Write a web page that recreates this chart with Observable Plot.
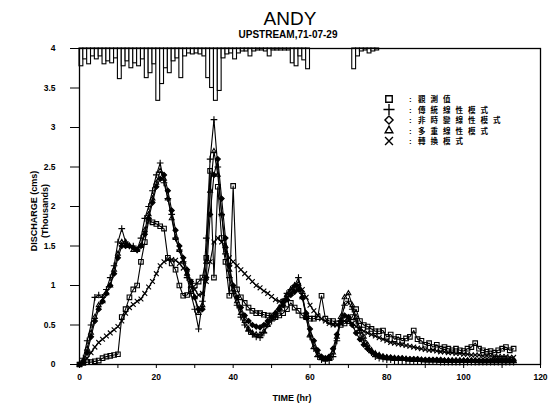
<!DOCTYPE html>
<html>
<head>
<meta charset="utf-8">
<script src="https://cdn.jsdelivr.net/npm/d3@7"></script>
<script src="https://cdn.jsdelivr.net/npm/@observablehq/plot@0.6"></script>
<style>
  html, body { margin: 0; padding: 0; background: #fff; }
  #chart { width: 548px; height: 407px; }
</style>
</head>
<body>
<div id="chart"></div>
<script>
// ---- Hydrograph of the ANDY event, upstream station, 1971-07-29 ----

const TITLE = "ANDY";
const SUBTITLE = "UPSTREAM,71-07-29";
const X_LABEL = "TIME (hr)";
const Y_LABEL_1 = "DISCHARGE (cms)";
const Y_LABEL_2 = "(Thousands)";

const X_TICKS = [0, 10, 20, 30, 40, 50, 60, 70, 80, 90, 100, 110, 120];
const X_TICK_LABELS = ["0", "", "20", "", "40", "", "60", "", "80", "", "100", "", "120"];
const Y_TICKS = [0, 0.5, 1, 1.5, 2, 2.5, 3, 3.5, 4];
const Y_TICK_LABELS = ["0", "0.5", "1", "1.5", "2", "2.5", "3", "3.5", "4"];

// hourly rainfall (mm), hung from the top of the frame
const rainMm = [
  9, 5.5, 8, 4, 5.5, 4, 8, 6.5, 7.5, 5,
  15.5, 9, 6.5, 10, 7.5, 9, 5.5, 15, 12.5, 8,
  26.5, 18, 10, 12.5, 6.5, 5, 15, 4, 2.5, 3,
  2.5, 3, 4, 15, 20, 26.5, 21.5, 5, 3, 2.5,
  5.5, 2.5, 1.5, 1.5, 4, 1.5, 1, 1, 1.5, 4,
  1, 1, 1, 1, 1, 7.5, 9, 4, 6, 10.5,
  0, 0, 0, 0, 0, 0, 0, 0, 0, 0,
  0, 10.5, 4, 1.5, 1, 2.5, 1.5, 1
];
const RAIN_TOP = 4;          // rainfall bars start at the top of the discharge axis
const RAIN_UNIT = 0.025;     // thousand cms of drop per mm of rain

// hourly discharge (thousand cms), hour 0 .. 113
const observed = [
  0, 0.02, 0.03, 0.03, 0.04, 0.05, 0.08, 0.10, 0.11, 0.12,
  0.13, 0.60, 0.70, 0.85, 0.95, 1.00, 1.30, 1.55, 1.82, 1.80,
  1.78, 1.75, 1.72, 1.35, 1.28, 1.20, 1.00, 0.87, 0.88, 0.95,
  1.00, 1.05, 1.10, 1.35, 2.45, 1.10, 2.25, 1.60, 1.30, 0.87,
  2.26, 0.95, 0.85, 0.78, 0.72, 0.68, 0.65, 0.65, 0.63, 0.62,
  0.62, 0.60, 0.62, 0.65, 0.70, 0.78, 0.72, 0.68, 0.62, 0.60,
  0.58, 0.58, 0.60, 0.87, 0.58, 0.55, 0.55, 0.52, 0.50, 0.52,
  0.55, 0.60, 0.70, 0.55, 0.50, 0.48, 0.45, 0.42, 0.42, 0.43,
  0.35, 0.38, 0.32, 0.35, 0.30, 0.33, 0.35, 0.43, 0.32, 0.30,
  0.25, 0.27, 0.22, 0.25, 0.20, 0.22, 0.20, 0.18, 0.20, 0.18,
  0.17, 0.20, 0.22, 0.27, 0.20, 0.18, 0.16, 0.17, 0.15, 0.18,
  0.20, 0.22, 0.18, 0.20
];
const linearModel = [
  0, 0.08, 0.30, 0.50, 0.85, 0.88, 0.85, 0.95, 1.10, 1.25,
  1.55, 1.72, 1.55, 1.50, 1.50, 1.45, 1.60, 1.85, 2.00, 2.20,
  2.40, 2.55, 2.30, 2.10, 1.90, 1.60, 1.45, 1.30, 1.10, 0.90,
  0.70, 0.45, 0.80, 1.60, 2.60, 3.10, 2.50, 1.90, 1.40, 1.10,
  0.90, 0.75, 0.60, 0.50, 0.42, 0.38, 0.35, 0.34, 0.40, 0.50,
  0.55, 0.60, 0.70, 0.80, 0.90, 0.95, 1.00, 1.10, 0.90, 0.60,
  0.35, 0.20, 0.10, 0.06, 0.05, 0.05, 0.10, 0.30, 0.55, 0.75,
  0.80, 0.70, 0.55, 0.40, 0.30, 0.20, 0.15, 0.10, 0.08, 0.07,
  0.06, 0.06, 0.05, 0.05, 0.05, 0.05, 0.05, 0.04, 0.04, 0.04,
  0.04, 0.04, 0.04, 0.04, 0.03, 0.03, 0.03, 0.03, 0.03, 0.03,
  0.03, 0.03, 0.03, 0.03, 0.03, 0.03, 0.03, 0.03, 0.03, 0.03,
  0.03, 0.03, 0.03, 0.03
];
const timeInvariantModel = [
  0, 0.03, 0.15, 0.35, 0.55, 0.70, 0.80, 0.90, 1.00, 1.15,
  1.35, 1.50, 1.50, 1.50, 1.48, 1.45, 1.50, 1.65, 1.85, 2.05,
  2.25, 2.35, 2.40, 2.20, 1.95, 1.70, 1.50, 1.35, 1.20, 1.05,
  0.85, 0.70, 0.70, 1.10, 1.90, 2.40, 2.60, 2.10, 1.60, 1.25,
  1.00, 0.85, 0.72, 0.62, 0.55, 0.50, 0.48, 0.47, 0.50, 0.55,
  0.60, 0.65, 0.70, 0.75, 0.82, 0.88, 0.92, 0.95, 0.85, 0.65,
  0.45, 0.30, 0.18, 0.10, 0.08, 0.10, 0.20, 0.38, 0.55, 0.62,
  0.60, 0.50, 0.40, 0.32, 0.25, 0.20, 0.16, 0.13, 0.11, 0.10,
  0.09, 0.09, 0.08, 0.08, 0.08, 0.07, 0.07, 0.07, 0.07, 0.06,
  0.06, 0.06, 0.06, 0.06, 0.06, 0.05, 0.05, 0.05, 0.05, 0.05,
  0.05, 0.05, 0.05, 0.05, 0.05, 0.05, 0.05, 0.05, 0.05, 0.05,
  0.05, 0.05, 0.05, 0.05
];
const multiLinearModel = [
  0, 0.05, 0.20, 0.40, 0.60, 0.75, 0.80, 0.90, 1.00, 1.20,
  1.40, 1.55, 1.55, 1.50, 1.45, 1.45, 1.50, 1.70, 1.90, 2.10,
  2.30, 2.45, 2.35, 2.10, 1.85, 1.60, 1.45, 1.30, 1.15, 1.00,
  0.85, 0.65, 0.75, 1.30, 2.20, 2.70, 2.40, 1.90, 1.50, 1.20,
  0.95, 0.80, 0.65, 0.55, 0.45, 0.40, 0.38, 0.38, 0.42, 0.50,
  0.58, 0.65, 0.72, 0.80, 0.88, 0.95, 1.00, 1.02, 0.85, 0.60,
  0.38, 0.22, 0.12, 0.08, 0.06, 0.08, 0.15, 0.35, 0.60, 0.85,
  0.90, 0.75, 0.60, 0.45, 0.35, 0.25, 0.18, 0.14, 0.12, 0.10,
  0.09, 0.08, 0.08, 0.07, 0.07, 0.07, 0.06, 0.06, 0.06, 0.06,
  0.05, 0.05, 0.05, 0.05, 0.05, 0.05, 0.05, 0.05, 0.05, 0.05,
  0.05, 0.05, 0.05, 0.05, 0.04, 0.04, 0.04, 0.04, 0.04, 0.04,
  0.04, 0.04, 0.04, 0.04
];
const conversionModel = [
  0, 0.03, 0.08, 0.15, 0.22, 0.28, 0.32, 0.36, 0.40, 0.44,
  0.48, 0.55, 0.65, 0.72, 0.76, 0.80, 0.83, 0.90, 0.98, 1.05,
  1.15, 1.25, 1.30, 1.33, 1.33, 1.32, 1.28, 1.22, 1.15, 1.05,
  0.95, 0.88, 0.90, 1.05, 1.30, 1.55, 1.60, 1.55, 1.45, 1.35,
  1.30, 1.25, 1.20, 1.15, 1.10, 1.05, 1.00, 0.97, 0.93, 0.90,
  0.86, 0.82, 0.80, 0.80, 0.85, 0.90, 0.98, 1.00, 0.95, 0.85,
  0.75, 0.68, 0.62, 0.58, 0.55, 0.52, 0.50, 0.50, 0.52, 0.55,
  0.55, 0.52, 0.48, 0.45, 0.42, 0.40, 0.38, 0.36, 0.34, 0.32,
  0.30, 0.28, 0.27, 0.26, 0.25, 0.24, 0.23, 0.22, 0.21, 0.20,
  0.19, 0.18, 0.18, 0.17, 0.16, 0.16, 0.15, 0.15, 0.14, 0.14,
  0.13, 0.13, 0.12, 0.12, 0.12, 0.11, 0.11, 0.11, 0.10, 0.10,
  0.10, 0.10, 0.09, 0.09
];

// legend entries
const seriesNames = ["觀測值", "傳統線性模式", "非時變線性模式", "多重線性模式", "轉換模式"];
const seriesSymbols = ["square", "plus", "diamond2", "triangle2", "times"];
const seriesFill = ["none", "none", "black", "none", "none"];
const seriesValues = [observed, linearModel, timeInvariantModel, multiLinearModel, conversionModel];

const rainRows = rainMm.map((mm, h) => ({t0: h, t1: h + 1, mm}));
const seriesRows = seriesValues.map((vals, i) =>
  vals.map((q, h) => ({t: h, q, name: seriesNames[i]}))
);

const FONT = "'Liberation Sans', Arial, Helvetica, sans-serif";

// models first, observations on top
const drawOrder = [4, 3, 2, 1, 0];
const seriesMarks = drawOrder.flatMap(i => [
  Plot.line(seriesRows[i], {x: "t", y: "q", stroke: "black", strokeWidth: 1.1}),
  Plot.dot(seriesRows[i], {
    x: "t", y: "q", symbol: () => seriesSymbols[i],
    r: i === 0 ? 2.6 : 2.3, stroke: "black", strokeWidth: 1.1, fill: seriesFill[i]
  })
]);

const plot = Plot.plot({
  width: 548,
  height: 407,
  marginTop: 48,
  marginBottom: 43,
  marginLeft: 79,
  marginRight: 8,
  x: {domain: [0, 120]},
  y: {domain: [0, 4]},
  symbol: {domain: seriesSymbols, range: seriesSymbols},
  style: {fontFamily: FONT, fontSize: "8.5px", fontWeight: "bold", color: "black", background: "white"},
  marks: [
    Plot.axisX({
      ticks: X_TICKS,
      tickFormat: d => X_TICK_LABELS[X_TICKS.indexOf(d)],
      tickSize: 4, tickPadding: 5, label: null, strokeWidth: 1
    }),
    Plot.axisY({
      ticks: Y_TICKS,
      tickFormat: d => Y_TICK_LABELS[Y_TICKS.indexOf(d)],
      tickSize: 9, tickPadding: 15, label: null, strokeWidth: 1
    }),
    ...seriesMarks,
    Plot.rect(rainRows, {
      x1: "t0", x2: "t1",
      y1: () => RAIN_TOP,
      y2: d => RAIN_TOP - d.mm * RAIN_UNIT,
      fill: "white", stroke: "black", strokeWidth: 1.1
    }),
    Plot.frame({stroke: "black", strokeWidth: 1.3})
  ]
});

document.getElementById("chart").appendChild(plot);

// titles, axis titles and legend
const svg = d3.select(plot);

svg.append("text")
  .attr("x", 290).attr("y", 25)
  .attr("text-anchor", "middle")
  .style("font-family", FONT).style("font-size", "19px").style("font-weight", "normal")
  .text(TITLE);

svg.append("text")
  .attr("x", 288).attr("y", 38)
  .attr("text-anchor", "middle")
  .style("font-family", FONT).style("font-size", "10px").style("font-weight", "bold")
  .text(SUBTITLE);

svg.append("text")
  .attr("x", 292).attr("y", 401)
  .attr("text-anchor", "middle")
  .style("font-family", FONT).style("font-size", "9px").style("font-weight", "bold")
  .text(X_LABEL);

svg.append("text")
  .attr("transform", "translate(37,211) rotate(-90)")
  .attr("text-anchor", "middle")
  .style("font-family", FONT).style("font-size", "9px").style("font-weight", "bold")
  .text(Y_LABEL_1);

svg.append("text")
  .attr("transform", "translate(48,211) rotate(-90)")
  .attr("text-anchor", "middle")
  .style("font-family", FONT).style("font-size", "9px").style("font-weight", "bold")
  .text(Y_LABEL_2);

const symbolTypes = {
  square: d3.symbolSquare,
  plus: d3.symbolPlus,
  diamond2: d3.symbolDiamond2,
  triangle2: d3.symbolTriangle2,
  times: d3.symbolTimes
};
const legendRowY = [99, 109.5, 120, 130.5, 141];
const legend = svg.append("g").attr("text-anchor", "start");
seriesNames.forEach((name, i) => {
  const row = legend.append("g").attr("transform", `translate(0,${legendRowY[i]})`);
  row.append("path")
    .attr("transform", "translate(389,0)")
    .attr("d", d3.symbol(symbolTypes[seriesSymbols[i]], 42)())
    .attr("fill", "none").attr("stroke", "black").attr("stroke-width", 1.4);
  row.append("text")
    .attr("x", 409).attr("y", 3)
    .attr("text-anchor", "start")
    .style("font-family", FONT).style("font-size", "8px").style("font-weight", "bold")
    .text(":");
  row.append("text")
    .attr("x", 418).attr("y", 3)
    .attr("text-anchor", "start")
    .style("font-family", "'Noto Sans CJK TC', 'Noto Sans CJK SC', sans-serif")
    .style("font-size", "7.5px").style("font-weight", "bold")
    .style("letter-spacing", "5px")
    .text(name);
});
</script>
</body>
</html>
